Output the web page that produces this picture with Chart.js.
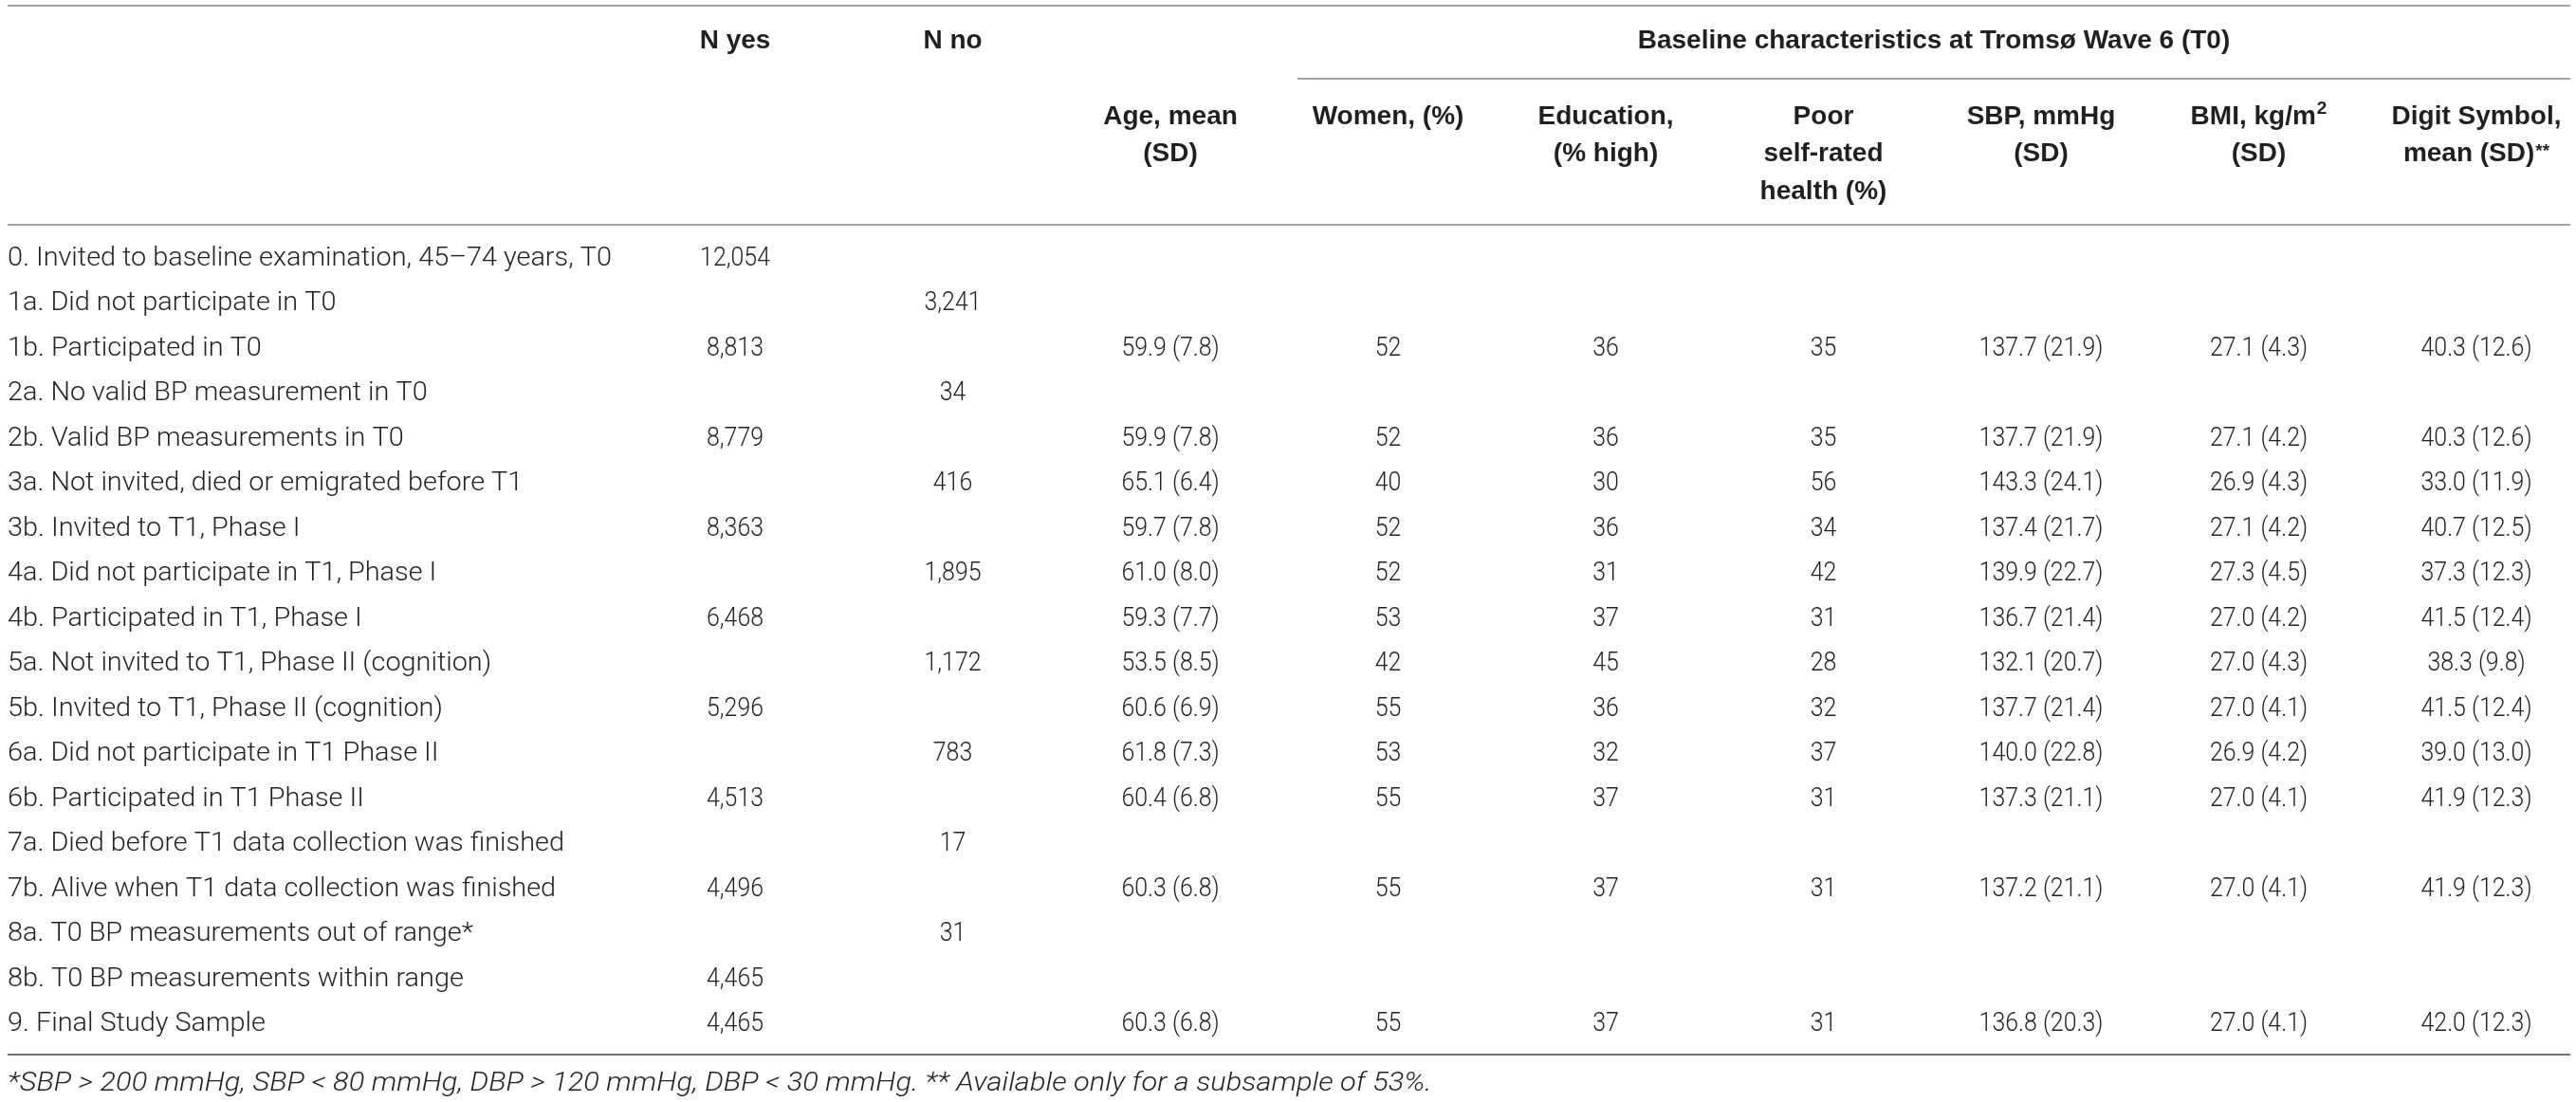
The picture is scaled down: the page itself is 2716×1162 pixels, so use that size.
<!DOCTYPE html>
<html>
<head>
<meta charset="utf-8">
<script src="https://cdn.jsdelivr.net/npm/chart.js@4.4.1/dist/chart.umd.min.js"></script>
<style>
  html, body { margin: 0; padding: 0; background: #fff; }
  #table { display: block; }
</style>
</head>
<body>
<canvas id="table" width="2716" height="1162"></canvas>
<script>
// rows of the flow table (top to bottom)
const rowLabels = [
  '0. Invited to baseline examination, 45\u201374 years, T0',
  '1a. Did not participate in T0',
  '1b. Participated in T0',
  '2a. No valid BP measurement in T0',
  '2b. Valid BP measurements in T0',
  '3a. Not invited, died or emigrated before T1',
  '3b. Invited to T1, Phase I',
  '4a. Did not participate in T1, Phase I',
  '4b. Participated in T1, Phase I',
  '5a. Not invited to T1, Phase II (cognition)',
  '5b. Invited to T1, Phase II (cognition)',
  '6a. Did not participate in T1 Phase II',
  '6b. Participated in T1 Phase II',
  '7a. Died before T1 data collection was finished',
  '7b. Alive when T1 data collection was finished',
  '8a. T0 BP measurements out of range*',
  '8b. T0 BP measurements within range',
  '9. Final Study Sample'
];
const nYes = [12054, null, 8813, null, 8779, null, 8363, null, 6468, null, 5296, null, 4513, null, 4496, null, 4465, 4465];
const nNo = [null, 3241, null, 34, null, 416, null, 1895, null, 1172, null, 783, null, 17, null, 31, null, null];
const ageMean = [null, null, 59.9, null, 59.9, 65.1, 59.7, 61.0, 59.3, 53.5, 60.6, 61.8, 60.4, null, 60.3, null, null, 60.3];
const ageSd = [null, null, 7.8, null, 7.8, 6.4, 7.8, 8.0, 7.7, 8.5, 6.9, 7.3, 6.8, null, 6.8, null, null, 6.8];
const womenPct = [null, null, 52, null, 52, 40, 52, 52, 53, 42, 55, 53, 55, null, 55, null, null, 55];
const eduHighPct = [null, null, 36, null, 36, 30, 36, 31, 37, 45, 36, 32, 37, null, 37, null, null, 37];
const poorHealthPct = [null, null, 35, null, 35, 56, 34, 42, 31, 28, 32, 37, 31, null, 31, null, null, 31];
const sbpMean = [null, null, 137.7, null, 137.7, 143.3, 137.4, 139.9, 136.7, 132.1, 137.7, 140.0, 137.3, null, 137.2, null, null, 136.8];
const sbpSd = [null, null, 21.9, null, 21.9, 24.1, 21.7, 22.7, 21.4, 20.7, 21.4, 22.8, 21.1, null, 21.1, null, null, 20.3];
const bmiMean = [null, null, 27.1, null, 27.1, 26.9, 27.1, 27.3, 27.0, 27.0, 27.0, 26.9, 27.0, null, 27.0, null, null, 27.0];
const bmiSd = [null, null, 4.3, null, 4.2, 4.3, 4.2, 4.5, 4.2, 4.3, 4.1, 4.2, 4.1, null, 4.1, null, null, 4.1];
const digitMean = [null, null, 40.3, null, 40.3, 33.0, 40.7, 37.3, 41.5, 38.3, 41.5, 39.0, 41.9, null, 41.9, null, null, 42.0];
const digitSd = [null, null, 12.6, null, 12.6, 11.9, 12.5, 12.3, 12.4, 9.8, 12.4, 13.0, 12.3, null, 12.3, null, null, 12.3];

// headers ('^' starts a superscript)
const columnHeaders = [
  ['N yes'],
  ['N no'],
  ['Age, mean', '(SD)'],
  ['Women, (%)'],
  ['Education,', '(% high)'],
  ['Poor', 'self-rated', 'health (%)'],
  ['SBP, mmHg', '(SD)'],
  ['BMI, kg/m^2', '(SD)'],
  ['Digit Symbol,', 'mean (SD)^**']
];
const groupTitle = 'Baseline characteristics at Troms\u00f8 Wave 6 (T0)';
const footnote = '*SBP > 200 mmHg, SBP < 80 mmHg, DBP > 120 mmHg, DBP < 30 mmHg. ** Available only for a subsample of 53%.';

// layout in scale units (x: one unit per data column, y: one unit per row)
const LABEL_X = -2.342;
const RIGHT_X = 9.431;
const GROUP_START_X = 3.584;

const TEXT = '#231f20';
const RULE = '#a3a3a3';
const RULE_DARK = '#707070';
const bodyFont = '300 28px Roboto, "Liberation Sans", sans-serif';
const headFont = 'bold 28px "Liberation Sans", Arial, sans-serif';
const supFont = 'bold 19px "Liberation Sans", Arial, sans-serif';
const footFont = 'italic 300 28px Roboto, "Liberation Sans", sans-serif';

const fmtCount = v => v.toLocaleString('en-US');
const fmtMeanSd = (m, s) => m.toFixed(1) + ' (' + s.toFixed(1) + ')';

function cells(col, texts) {
  const out = [];
  texts.forEach((t, i) => { if (t !== null) out.push({ x: col, y: i, text: t }); });
  return out;
}

const columns = [
  rowLabels.map(t => t),
  nYes.map(v => v === null ? null : fmtCount(v)),
  nNo.map(v => v === null ? null : fmtCount(v)),
  ageMean.map((v, i) => v === null ? null : fmtMeanSd(v, ageSd[i])),
  womenPct.map(v => v === null ? null : String(v)),
  eduHighPct.map(v => v === null ? null : String(v)),
  poorHealthPct.map(v => v === null ? null : String(v)),
  sbpMean.map((v, i) => v === null ? null : fmtMeanSd(v, sbpSd[i])),
  bmiMean.map((v, i) => v === null ? null : fmtMeanSd(v, bmiSd[i])),
  digitMean.map((v, i) => v === null ? null : fmtMeanSd(v, digitSd[i]))
];

const datasets = columns.map((texts, c) => ({
  label: c === 0 ? 'Step' : columnHeaders[c - 1].join(' ').replace('^', ''),
  data: cells(c === 0 ? LABEL_X : c, texts),
  pointRadius: 0,
  pointHoverRadius: 0,
  showLine: false,
  align: c === 0 ? 'left' : 'center',
  squeeze: c === 0 ? 1.03 : 0.89
}));

function drawText(ctx, str, x, y, font, align, squeeze) {
  ctx.save();
  ctx.translate(x, y);
  ctx.scale(squeeze, 1);
  ctx.font = font;
  ctx.fillStyle = TEXT;
  ctx.textAlign = align;
  ctx.textBaseline = 'middle';
  ctx.fillText(str, 0, 0);
  ctx.restore();
}

// centred bold header line, with optional superscript tail
function drawHead(ctx, str, x, y) {
  const [base, sup] = str.split('^');
  ctx.save();
  ctx.fillStyle = TEXT;
  ctx.textBaseline = 'middle';
  ctx.textAlign = 'left';
  ctx.font = headFont;
  const wb = ctx.measureText(base).width;
  let ws = 0;
  if (sup) { ctx.font = supFont; ws = ctx.measureText(sup).width + 1; }
  const x0 = x - (wb + ws) / 2;
  ctx.font = headFont;
  ctx.fillText(base, x0, y);
  if (sup) {
    ctx.font = supFont;
    ctx.fillText(sup, x0 + wb + 1, y - (/\d/.test(sup) ? 8 : 3));
  }
  ctx.restore();
}

function rule(ctx, x0, x1, yPix, color) {
  ctx.save();
  ctx.strokeStyle = color;
  ctx.lineWidth = 2;
  ctx.beginPath();
  ctx.moveTo(x0, yPix);
  ctx.lineTo(x1, yPix);
  ctx.stroke();
  ctx.restore();
}

const tablePlugin = {
  id: 'tablePlugin',
  afterDatasetsDraw(chart) {
    const ctx = chart.ctx;
    const x = chart.scales.x, y = chart.scales.y;
    const left = x.getPixelForValue(LABEL_X), right = x.getPixelForValue(RIGHT_X);

    // rules
    rule(ctx, left, right, y.getPixelForValue(-5.621), RULE);
    rule(ctx, x.getPixelForValue(GROUP_START_X), right, y.getPixelForValue(-4.0), RULE);
    rule(ctx, left, right, y.getPixelForValue(-0.758), RULE);
    rule(ctx, left, right, y.getPixelForValue(17.663), RULE_DARK);

    // header
    const mid = (x.getPixelForValue(GROUP_START_X) + right) / 2;
    drawHead(ctx, groupTitle, mid, y.getPixelForValue(-4.842));
    columnHeaders.forEach((lines, c) => {
      const px = x.getPixelForValue(c + 1);
      if (c < 2) {
        drawHead(ctx, lines[0], px, y.getPixelForValue(-4.842));
        return;
      }
      lines.forEach((ln, k) => {
        drawHead(ctx, ln, px, y.getPixelForValue(-3.158 + k * 0.83));
      });
    });

    // body cells
    chart.data.datasets.forEach((ds, di) => {
      const meta = chart.getDatasetMeta(di);
      meta.data.forEach((pt, i) => {
        drawText(ctx, ds.data[i].text, pt.x, pt.y, bodyFont, ds.align, ds.squeeze);
      });
    });

    // footnote
    drawText(ctx, footnote, left, y.getPixelForValue(18.316), footFont, 'left', 1.10);
  }
};

new Chart(document.getElementById('table'), {
  type: 'scatter',
  data: { datasets: datasets },
  options: {
    responsive: false,
    devicePixelRatio: 1,
    animation: false,
    events: [],
    layout: { padding: 0 },
    plugins: { legend: { display: false }, tooltip: { enabled: false } },
    scales: {
      x: { type: 'linear', min: -2.377, max: 9.4575, display: false },
      y: { type: 'linear', reverse: true, min: -5.747, max: 18.716, display: false }
    }
  },
  plugins: [tablePlugin]
});
</script>
</body>
</html>
